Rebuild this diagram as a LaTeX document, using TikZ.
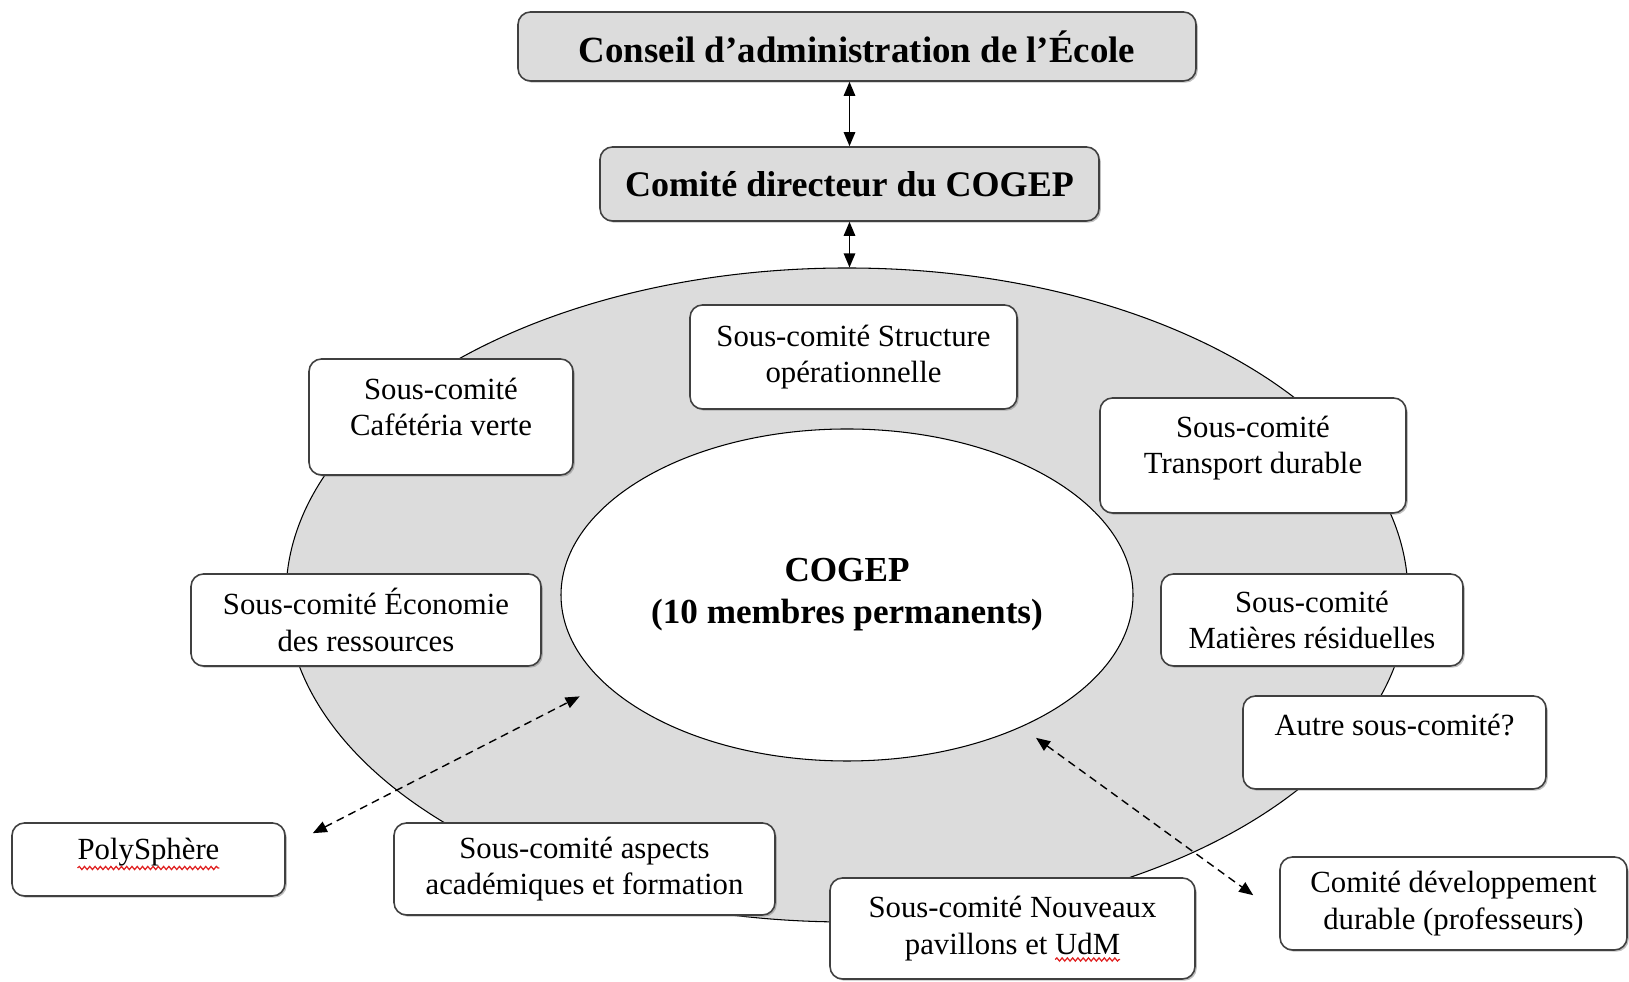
\documentclass[tikz,border=0pt]{standalone}
\usepackage{fontspec}
\setmainfont{Liberation Serif}
\usepackage{tikz}
\usetikzlibrary{arrows.meta,shapes.geometric,shadows,decorations.pathmorphing}
\definecolor{ringGray}{HTML}{DCDCDC}
\definecolor{spellRed}{HTML}{E02020}
\newlength{\polyw}
\newlength{\udmw}
\newlength{\pavw}
\tikzset{
	box/.style={draw=black!75, line width=0.9pt, rounded corners=2.5mm, fill=white, align=center,
		inner sep=2pt, drop shadow={shadow xshift=1pt, shadow yshift=-1pt, fill=black!50}},
	graybox/.style={box, fill=ringGray},
	link/.style={<->, line width=0.9pt},
	dashlink/.style={<->, line width=0.8pt, dash pattern=on 4.5pt off 3pt},
	spellwave/.style={draw=spellRed, line width=0.7pt, decorate, decoration={snake, amplitude=0.9pt, segment length=3pt}}
}

\begin{document}
\settowidth{\polyw}{\fontsize{17.5}{20.6}\selectfont PolySphère}
\settowidth{\udmw}{\fontsize{17.5}{20.6}\selectfont UdM}
\settowidth{\pavw}{\fontsize{17.5}{20.6}\selectfont pavillons et UdM}
\begin{tikzpicture}[>={Triangle[length=8pt,width=6.5pt]}, font=\fontsize{17.5}{20.6}\selectfont]
\useasboundingbox (0,0) rectangle (32.58,19.64);
\node[draw, ellipse, line width=0.6pt, fill=ringGray, minimum width=22.44cm, minimum height=13.08cm] (ring) at (16.94,7.74) {};
\node[draw, ellipse, line width=0.6pt, fill=white, minimum width=11.44cm, minimum height=6.64cm] (core) at (16.94,7.74) {};
\node[align=center, font=\bfseries\fontsize{20}{24}\selectfont] (cogep) at (core) {COGEP\\(10 membres permanents)};

\node[graybox, minimum width=13.56cm, minimum height=1.38cm, font=\bfseries\fontsize{21}{24}\selectfont] (conseil) at (17.14,18.71) {Conseil d’administration de l’École};
\node[graybox, minimum width=9.98cm, minimum height=1.48cm, font=\bfseries\fontsize{20.5}{24}\selectfont] (directeur) at (16.99,15.96) {Comité directeur du COGEP};

\node[box, minimum width=6.54cm, minimum height=2.08cm] (structure) at (17.07,12.5) {Sous-comité Structure\\opérationnelle};
\node[box, minimum width=5.28cm, minimum height=2.32cm, text depth=12pt] (cafeteria) at (8.82,11.3) {Sous-comité\\Cafétéria verte};
\node[box, minimum width=6.12cm, minimum height=2.3cm, text depth=12pt] (transport) at (25.06,10.53) {Sous-comité\\Transport durable};
\node[box, minimum width=7cm, minimum height=1.84cm] (economie) at (7.32,7.24) {Sous-comité Économie\\des ressources};
\node[box, minimum width=6.04cm, minimum height=1.84cm] (matieres) at (26.24,7.24) {Sous-comité\\Matières résiduelles};
\node[box, minimum width=6.06cm, minimum height=1.86cm, text depth=20pt] (autre) at (27.89,4.79) {Autre sous-comité?};
\node[box, minimum width=5.46cm, minimum height=1.46cm, text depth=12pt] (polysphere) at (2.97,2.45) {PolySphère};
\node[box, minimum width=7.62cm, minimum height=1.84cm] (aspects) at (11.69,2.26) {Sous-comité aspects\\académiques et formation};
\node[box, minimum width=7.3cm, minimum height=2.02cm] (nouveaux) at (20.25,1.07) {Sous-comité Nouveaux\\pavillons et UdM};
\node[box, minimum width=6.94cm, minimum height=1.86cm] (developpement) at (29.07,1.57) {Comité développement\\durable (professeurs)};

\draw[spellwave] ([xshift=-0.5\polyw, yshift=-0.17cm]polysphere.center) -- ++(\polyw,0);
\draw[spellwave] ([xshift=0.5\pavw-\udmw, yshift=-0.62cm]nouveaux.center) -- ++(\udmw,0);

\draw[link] (directeur.north) -- (directeur.north |- conseil.south);
\draw[link] (directeur.south) -- (directeur.south |- ring.north);

\draw[dashlink] ([shift={(0.54,-0.22)}]polysphere.north east) -- ([shift={(-0.49,-0.26)}]core.200);
\draw[dashlink] ([shift={(0.28,-0.22)}]core.323) -- ([shift={(-0.52,-0.78)}]developpement.north west);
\end{tikzpicture}
\end{document}
